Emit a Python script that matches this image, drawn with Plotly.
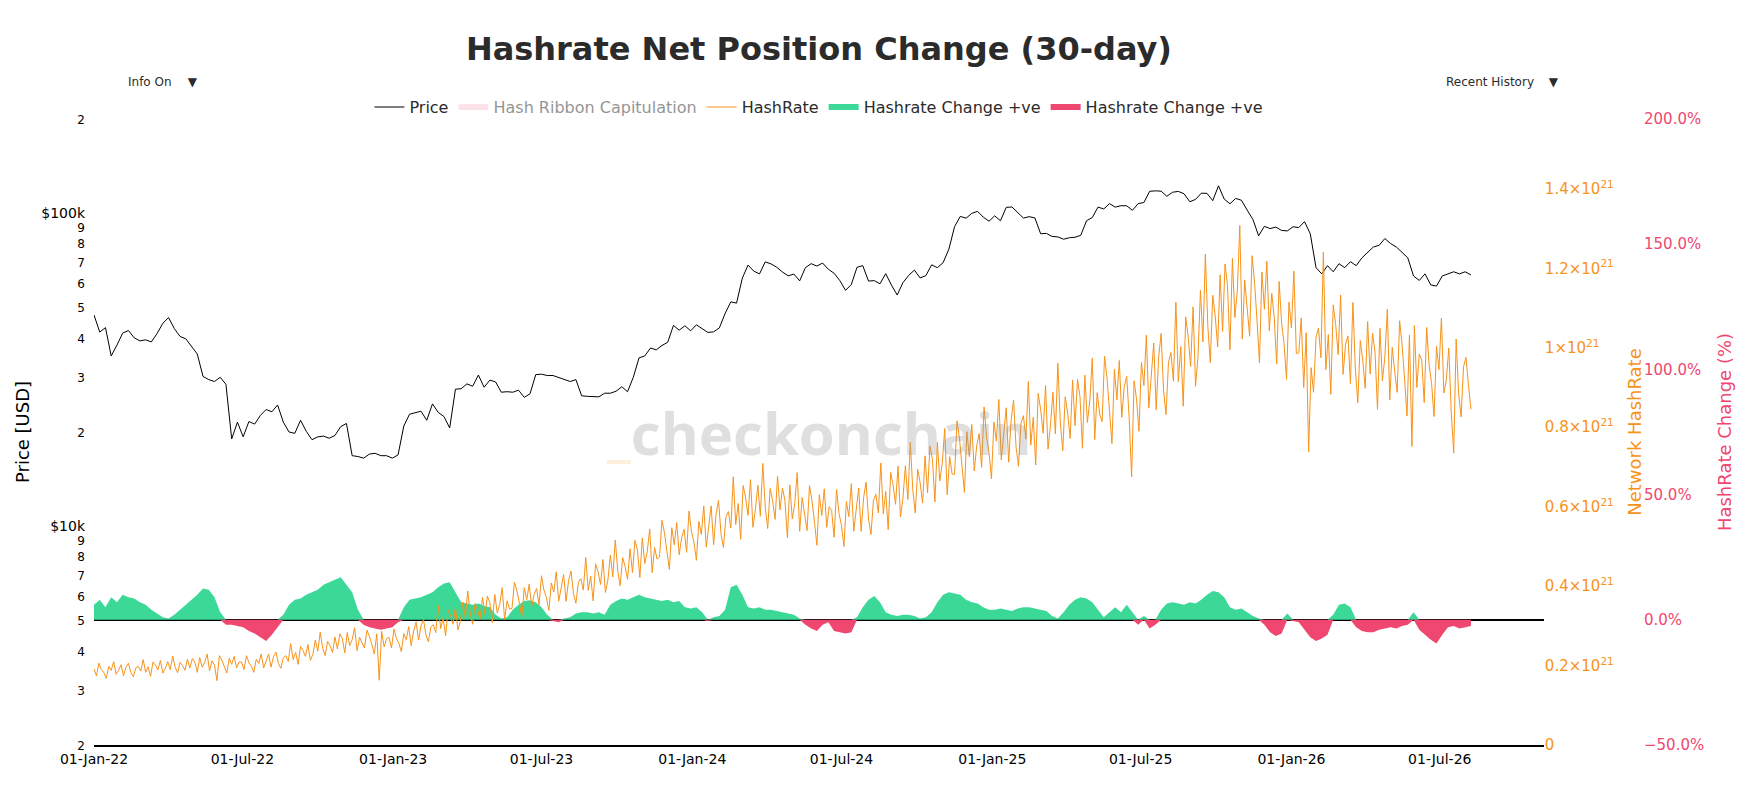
import pandas as pd
import plotly.graph_objects as go

# BTC price, weekly from 01-Jan-22, in $k
price_k = [
    47.3, 41.7, 43.1, 35.0, 37.9, 41.4, 42.2, 40.0, 39.1, 39.4, 38.8, 41.3,
    44.5, 46.4, 42.8, 40.4, 39.7, 37.7, 35.5, 30.1, 29.4, 29.0, 29.9, 28.4,
    19.0, 21.5, 19.3, 21.6, 21.2, 22.6, 23.6, 23.2, 24.4, 21.5, 20.0, 19.8,
    21.8, 20.1, 18.9, 19.3, 19.4, 19.1, 19.5, 20.8, 21.3, 16.8, 16.7, 16.5,
    17.0, 17.1, 16.8, 16.8, 16.5, 16.9, 20.9, 22.8, 23.1, 23.3, 21.8, 24.6,
    23.1, 22.4, 20.6, 27.4, 27.5, 28.5, 28.0, 30.4, 27.8, 29.3, 28.9, 26.8,
    26.9, 26.8, 27.2, 25.8, 26.5, 30.5, 30.6, 30.3, 30.3, 29.9, 29.4, 29.0,
    29.4, 26.1, 26.0, 25.9, 25.9, 26.6, 26.6, 27.0, 27.9, 26.9, 29.9, 34.5,
    35.0, 37.1, 36.6, 37.8, 38.7, 43.8, 42.3, 43.7, 42.1, 44.0, 42.8, 41.6,
    41.8, 43.0, 47.8, 52.1, 51.6, 62.0, 68.3, 65.3, 64.0, 69.9, 68.9, 67.2,
    64.9, 63.1, 63.9, 60.8, 67.0, 69.0, 67.8, 69.3, 66.2, 64.3, 60.9, 56.7,
    59.2, 67.2, 68.0, 60.7, 60.9, 59.5, 64.1, 58.9, 54.8, 60.0, 63.3, 65.8,
    62.1, 63.2, 68.4, 67.0, 69.5, 76.7, 90.6, 97.7, 96.4, 99.9, 101.4, 97.2,
    94.3, 98.1, 94.6, 104.4, 104.7, 100.6, 96.5, 97.5, 96.6, 86.0, 86.2, 84.3,
    84.0, 82.6, 83.5, 83.8, 85.0, 94.6, 96.9, 104.6, 103.2, 107.3, 104.6, 105.7,
    105.6, 102.2, 107.3, 108.2, 117.5, 117.9, 117.6, 113.3, 116.7, 117.4, 115.4, 108.8,
    110.7, 115.9, 115.7, 109.7, 122.3, 111.0, 107.2, 111.5, 110.0, 102.3, 95.5, 84.7,
    90.8, 89.3, 90.3, 88.1, 87.8, 90.5, 90.0, 94.0, 86.0, 67.0, 64.0, 68.0,
    65.0, 69.0, 67.0, 70.0, 68.0, 72.0, 75.0, 78.0, 79.0, 83.0, 80.0, 78.0,
    75.0, 72.0, 63.0, 61.0, 64.0, 59.0, 58.5, 63.0, 64.0, 65.0, 64.0, 65.0,
    63.5,
]

# network hashrate, every 3 days from 01-Jan-22, in EH/s
hashrate_eh = [
    192, 174, 206, 190, 182, 168, 198, 188, 210, 178,
    188, 202, 174, 196, 206, 182, 172, 194, 198, 186,
    215, 183, 197, 173, 209, 201, 189, 213, 181, 193,
    210, 190, 224, 196, 182, 208, 200, 188, 216, 194,
    218, 209, 183, 220, 196, 207, 229, 187, 212, 201,
    162, 225, 214, 198, 181, 218, 203, 223, 194, 209,
    209, 190, 225, 207, 198, 183, 216, 205, 229, 194,
    213, 229, 196, 222, 234, 205, 193, 220, 225, 210,
    255, 215, 233, 203, 248, 238, 223, 253, 213, 228,
    264, 236, 284, 244, 225, 261, 250, 233, 272, 242,
    280, 268, 232, 283, 250, 265, 295, 238, 271, 256,
    244, 289, 274, 253, 229, 280, 163, 286, 247, 268,
    271, 244, 292, 268, 256, 235, 280, 265, 298, 250,
    287, 310, 264, 300, 316, 277, 260, 297, 303, 283,
    351, 293, 319, 275, 340, 326, 304, 347, 290, 311,
    360, 320, 388, 332, 304, 356, 340, 316, 372, 328,
    375, 358, 308, 379, 333, 354, 396, 316, 363, 342,
    344, 410, 388, 357, 322, 396, 366, 405, 348, 379,
    394, 353, 426, 390, 371, 339, 408, 385, 436, 362,
    395, 429, 362, 414, 438, 381, 357, 410, 419, 390,
    472, 389, 425, 363, 456, 436, 404, 467, 384, 415,
    478, 423, 516, 439, 401, 472, 450, 417, 494, 434,
    515, 492, 422, 521, 457, 486, 544, 434, 497, 468,
    473, 566, 535, 491, 442, 547, 504, 560, 479, 522,
    543, 485, 589, 537, 511, 465, 563, 530, 602, 498,
    553, 602, 504, 581, 616, 532, 497, 574, 588, 546,
    675, 555, 608, 518, 653, 623, 578, 668, 548, 593,
    654, 576, 709, 599, 545, 646, 615, 568, 677, 592,
    647, 616, 522, 655, 569, 608, 686, 538, 623, 584,
    540, 653, 615, 563, 503, 630, 578, 645, 548, 600,
    590, 523, 643, 583, 553, 500, 613, 575, 658, 538,
    592, 647, 538, 623, 662, 569, 530, 616, 631, 584,
    710, 582, 638, 542, 686, 654, 606, 702, 574, 622,
    703, 618, 762, 643, 584, 694, 660, 609, 728, 635,
    753, 718, 612, 762, 665, 709, 797, 630, 726, 682,
    681, 816, 771, 708, 636, 789, 726, 807, 690, 753,
    784, 699, 851, 775, 737, 670, 813, 765, 870, 718,
    780, 849, 712, 819, 868, 751, 702, 810, 829, 770,
    915, 755, 825, 705, 885, 845, 785, 905, 745, 805,
    888, 783, 961, 814, 741, 877, 835, 772, 919, 804,
    920, 877, 747, 931, 812, 866, 974, 769, 887, 833,
    814, 979, 924, 847, 759, 946, 869, 968, 825, 902,
    928, 825, 675, 917, 871, 790, 963, 905, 1032, 848,
    928, 1012, 844, 976, 1036, 892, 832, 964, 988, 916,
    1115, 915, 1003, 853, 1078, 1028, 953, 1103, 903, 978,
    1145, 1015, 1236, 1054, 963, 1132, 1080, 1002, 1184, 1041,
    1211, 1157, 995, 1225, 1076, 1144, 1308, 1022, 1171, 1103,
    1029, 1232, 1164, 1070, 962, 1191, 1097, 1218, 1043, 1137,
    1076, 959, 1167, 1063, 1011, 920, 1115, 1050, 1193, 985,
    988, 1075, 900, 1038, 738, 950, 888, 1025, 1050, 975,
    1241, 945, 1033, 883, 1108, 1058, 983, 1133, 933, 1008,
    1030, 910, 1114, 946, 862, 1018, 970, 898, 1066, 934,
    1037, 989, 845, 1049, 917, 977, 1097, 869, 1001, 941,
    888, 1068, 1008, 924, 828, 1032, 752, 1056, 900, 984,
    969, 862, 1051, 957, 910, 827, 1004, 945, 1075, 886,
    919, 999, 838, 735, 1022, 884, 826, 953, 976, 907,
    845,
]

# 30-day hashrate change, weekly from 01-Jan-22 (fraction)
hr_change = [
    0.06, 0.08, 0.05, 0.09, 0.07, 0.10, 0.09, 0.085, 0.07, 0.06, 0.04, 0.025,
    0.01, 0.005, 0.02, 0.04, 0.06, 0.08, 0.10, 0.125, 0.12, 0.09, 0.03, -0.02,
    -0.02, -0.025, -0.03, -0.045, -0.055, -0.07, -0.085, -0.06, -0.03, 0.02, 0.06, 0.08,
    0.085, 0.10, 0.11, 0.12, 0.14, 0.15, 0.16, 0.17, 0.14, 0.11, 0.04, -0.02,
    -0.03, -0.035, -0.04, -0.035, -0.03, -0.01, 0.05, 0.08, 0.085, 0.09, 0.10, 0.11,
    0.13, 0.145, 0.15, 0.11, 0.07, 0.065, 0.06, 0.065, 0.055, 0.05, 0.02, 0.005,
    0.01, 0.04, 0.06, 0.075, 0.078, 0.07, 0.05, 0.02, -0.005, -0.01, 0.005, 0.01,
    0.025, 0.03, 0.03, 0.025, 0.03, 0.02, 0.06, 0.075, 0.085, 0.08, 0.09, 0.10,
    0.09, 0.085, 0.08, 0.075, 0.08, 0.07, 0.075, 0.05, 0.045, 0.05, 0.03, -0.005,
    0.01, 0.015, 0.04, 0.13, 0.14, 0.10, 0.05, 0.045, 0.05, 0.04, 0.04, 0.035,
    0.03, 0.025, 0.02, 0.005, -0.02, -0.035, -0.045, -0.02, -0.01, -0.045, -0.05, -0.055,
    -0.05, 0.01, 0.05, 0.08, 0.095, 0.07, 0.03, 0.02, 0.015, 0.02, 0.02, 0.015,
    0.005, 0.01, 0.03, 0.07, 0.10, 0.11, 0.105, 0.10, 0.08, 0.07, 0.065, 0.05,
    0.04, 0.04, 0.045, 0.04, 0.035, 0.045, 0.05, 0.05, 0.045, 0.04, 0.035, 0.015,
    0.005, 0.03, 0.06, 0.08, 0.09, 0.085, 0.07, 0.04, 0.01, 0.03, 0.05, 0.03,
    0.06, 0.03, -0.02, 0.015, -0.035, -0.02, 0.04, 0.065, 0.07, 0.065, 0.06, 0.07,
    0.065, 0.08, 0.10, 0.115, 0.11, 0.09, 0.05, 0.04, 0.045, 0.03, 0.015, 0.005,
    -0.02, -0.05, -0.065, -0.055, 0.025, -0.005, -0.01, -0.04, -0.07, -0.085, -0.075, -0.06,
    0.02, 0.06, 0.065, 0.05, -0.03, -0.045, -0.05, -0.05, -0.04, -0.035, -0.03, -0.035,
    -0.025, -0.02, 0.03, -0.04, -0.06, -0.08, -0.095, -0.06, -0.03, -0.025, -0.035, -0.03,
    -0.025,
]

# hash ribbon capitulation windows (hidden by default)
ribbon_start = ['2022-06-08', '2022-11-18', '2024-04-28']
ribbon_end = ['2022-08-05', '2023-01-04', '2024-07-20']

# price axis labels
price_tickvals = [2000, 3000, 4000, 5000, 6000, 7000, 8000, 9000,
                  10000, 20000, 30000, 40000, 50000, 60000, 70000, 80000, 90000,
                  100000, 200000]
price_ticktext = ['2', '3', '4', '5', '6', '7', '8', '9', '$10k',
                  '2', '3', '4', '5', '6', '7', '8', '9', '$100k', '2']

price_dates = pd.date_range('2022-01-01', periods=len(price_k), freq='7D')
hr_dates = pd.date_range('2022-01-01', periods=len(hashrate_eh), freq='3D')
chg_dates = pd.date_range('2022-01-01', periods=len(hr_change), freq='7D')

price = [p * 1000 for p in price_k]
hashrate = [h * 1e18 for h in hashrate_eh]
chg_up = [max(c, 0) for c in hr_change]
chg_down = [min(c, 0) for c in hr_change]

ribbon_x, ribbon_y = [], []
for s, e in zip(ribbon_start, ribbon_end):
    ribbon_x += [s, s, e, e, None]
    ribbon_y += [2000, 200000, 200000, 2000, None]

tick_labels = [t if t.startswith('$') else f"<span style='font-size:12px'>{t}</span>"
               for t in price_ticktext]

ORANGE = '#f7931a'
PINK = '#ef476f'
GREEN = '#3bd897'
FONT = 'DejaVu Sans'
XDOM = 0.936

fig = go.Figure()

fig.add_trace(go.Scatter(
    x=price_dates, y=price, name='Price', mode='lines',
    line=dict(color='black', width=1), yaxis='y'))

fig.add_trace(go.Scatter(
    x=ribbon_x, y=ribbon_y, name='Hash Ribbon Capitulation', mode='none',
    fill='toself', fillcolor='rgba(239,71,111,0.3)',
    visible='legendonly', yaxis='y'))

fig.add_trace(go.Scatter(
    x=hr_dates, y=hashrate, name='HashRate', mode='lines',
    line=dict(color=ORANGE, width=1), yaxis='y3'))

fig.add_trace(go.Scatter(
    x=chg_dates, y=chg_up, name='Hashrate Change +ve', mode='none',
    fill='tozeroy', fillcolor=GREEN, yaxis='y2'))

fig.add_trace(go.Scatter(
    x=chg_dates, y=chg_down, name='Hashrate Change +ve', mode='none',
    fill='tozeroy', fillcolor=PINK, yaxis='y2'))

# watermark
fig.add_annotation(
    text="<b><span style='color:rgba(247,147,26,0.5)'>_</span>checkonchain</b>",
    xref='paper', yref='paper', x=XDOM / 2, y=0.5,
    xanchor='center', yanchor='middle', showarrow=False,
    font=dict(family='Open Sans', size=58, color='rgba(150,150,150,0.3)'),
)

fig.update_layout(
    width=1737, height=804,
    margin=dict(l=86, r=102, t=111, b=67),
    paper_bgcolor='white', plot_bgcolor='white',
    font=dict(family=FONT, color='#2b2b2b'),
    title=dict(text='<b>Hashrate Net Position Change (30-day)</b>',
               x=XDOM / 2, xref='paper', xanchor='center',
               y=0.949, yref='container', yanchor='middle',
               font=dict(size=32, color='#2b2b2b')),
    showlegend=True,
    legend=dict(orientation='h', x=XDOM / 2, xanchor='center',
                y=1.019, yanchor='middle', font=dict(size=16),
                bgcolor='rgba(0,0,0,0)'),
    xaxis=dict(domain=[0, XDOM], type='date',
               range=['2022-01-01', '2026-11-05'],
               dtick='M6', tick0='2022-01-01', tickformat='%d-%b-%y',
               showgrid=False, zeroline=False,
               showline=True, linecolor='black', linewidth=1.5,
               tickfont=dict(size=14, color='black')),
    yaxis=dict(type='log', range=[3.30103, 5.30103],
               tickvals=price_tickvals, ticktext=tick_labels,
               ticklabelstandoff=8,
               showgrid=False, zeroline=False,
               title=dict(text='Price [USD]', font=dict(size=18, color='black'),
                          standoff=6),
               tickfont=dict(size=14, color='black')),
    yaxis2=dict(overlaying='y', anchor='free', position=1.0, side='right',
                range=[-0.5, 2.0], dtick=0.5, tickformat='.1%',
                showgrid=False, zeroline=True, zerolinecolor='black',
                zerolinewidth=2,
                title=dict(text='HashRate Change (%)',
                           font=dict(size=18, color=PINK)),
                tickfont=dict(size=15, color=PINK)),
    yaxis3=dict(overlaying='y', anchor='x', side='right',
                range=[0, 1.576e21], dtick=0.2e21, tick0=0,
                exponentformat='power', showexponent='all',
                showgrid=False, zeroline=False,
                title=dict(text='Network HashRate',
                           font=dict(size=18, color=ORANGE)),
                tickfont=dict(size=15, color=ORANGE)),
    updatemenus=[
        dict(type='dropdown', x=0.014, y=1.084, xanchor='left', yanchor='top',
             bgcolor='white', bordercolor='white', borderwidth=0,
             font=dict(size=12, color='#2b2b2b'), showactive=True,
             buttons=[dict(label='Info On', method='relayout', args=[{}]),
                      dict(label='Info Off', method='relayout', args=[{}])]),
        dict(type='dropdown', x=0.865, y=1.084, xanchor='left', yanchor='top',
             bgcolor='white', bordercolor='white', borderwidth=0,
             font=dict(size=12, color='#2b2b2b'), showactive=True,
             buttons=[dict(label='Recent History', method='relayout', args=[{}]),
                      dict(label='Full History', method='relayout', args=[{}])]),
    ],
)

fig.write_html("out.html")
